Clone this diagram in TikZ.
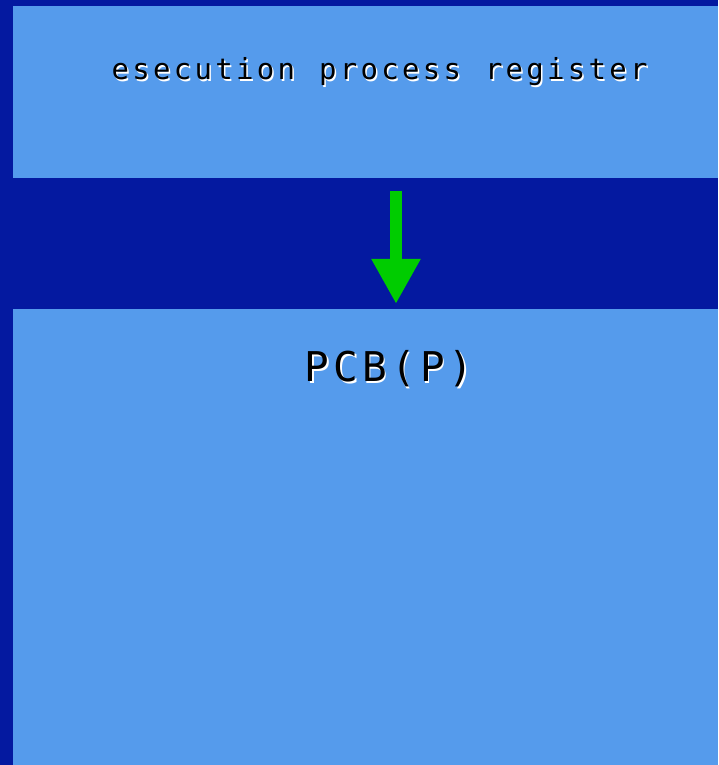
\documentclass[tikz,border=0pt]{standalone}
\usepackage{fontspec}
\usetikzlibrary{arrows.meta}
\newfontfamily\labelfont{DejaVu Sans Mono}
\definecolor{deepblue}{RGB}{4,25,160}
\definecolor{paneblue}{RGB}{85,155,236}
\definecolor{arrowgreen}{RGB}{0,204,0}
% set a string in fixed-width cells, one character per cell
\ExplSyntaxOn
\NewDocumentCommand \cellspread { m m }
  { \str_map_inline:nn { #2 } { \makebox[#1][c]{##1} } }
\ExplSyntaxOff
\tikzset{
  pane/.style={fill=paneblue, draw=none, inner sep=0pt, anchor=south west},
  shadowtext/.style={text=white, inner sep=0pt, anchor=base},
  maintext/.style={text=black, inner sep=0pt, anchor=base},
  regfont/.style={font=\labelfont\fontsize{29}{29}\selectfont},
  pcbfont/.style={font=\labelfont\fontsize{41}{41}\selectfont},
  flow/.style={draw=arrowgreen, line width=12pt,
    -{Triangle[length=45pt, width=46pt, fill=arrowgreen]}}
}
\begin{document}
\begin{tikzpicture}[x=1pt, y=1pt]
  % background
  \fill[deepblue] (0,0) rectangle (718,765);
  \useasboundingbox (0,0) rectangle (718,765);
  % the two panes
  \node[pane, minimum width=705.5pt, minimum height=172pt] (reg) at (12.5,587) {};
  \node[pane, minimum width=705.5pt, minimum height=455.5pt] (pcb) at (12.5,0) {};
  % labels with a light drop shadow
  \node[shadowtext, regfont] (regshadow) at (381.2,683.5) {\cellspread{20.74pt}{esecution process register}};
  \node[maintext, regfont] (reglabel) at (379.7,685) {\cellspread{20.74pt}{esecution process register}};
  \node[shadowtext, pcbfont] (pcbshadow) at (390.7,381.8) {\cellspread{28.84pt}{PCB(P)}};
  \node[maintext, pcbfont] (pcblabel) at (389.2,383.3) {\cellspread{28.84pt}{PCB(P)}};
  % transfer arrow
  \coordinate (from) at (396,574);
  \coordinate (to) at (396,461);
  \draw[flow] (from) -- (to);
\end{tikzpicture}
\end{document}
